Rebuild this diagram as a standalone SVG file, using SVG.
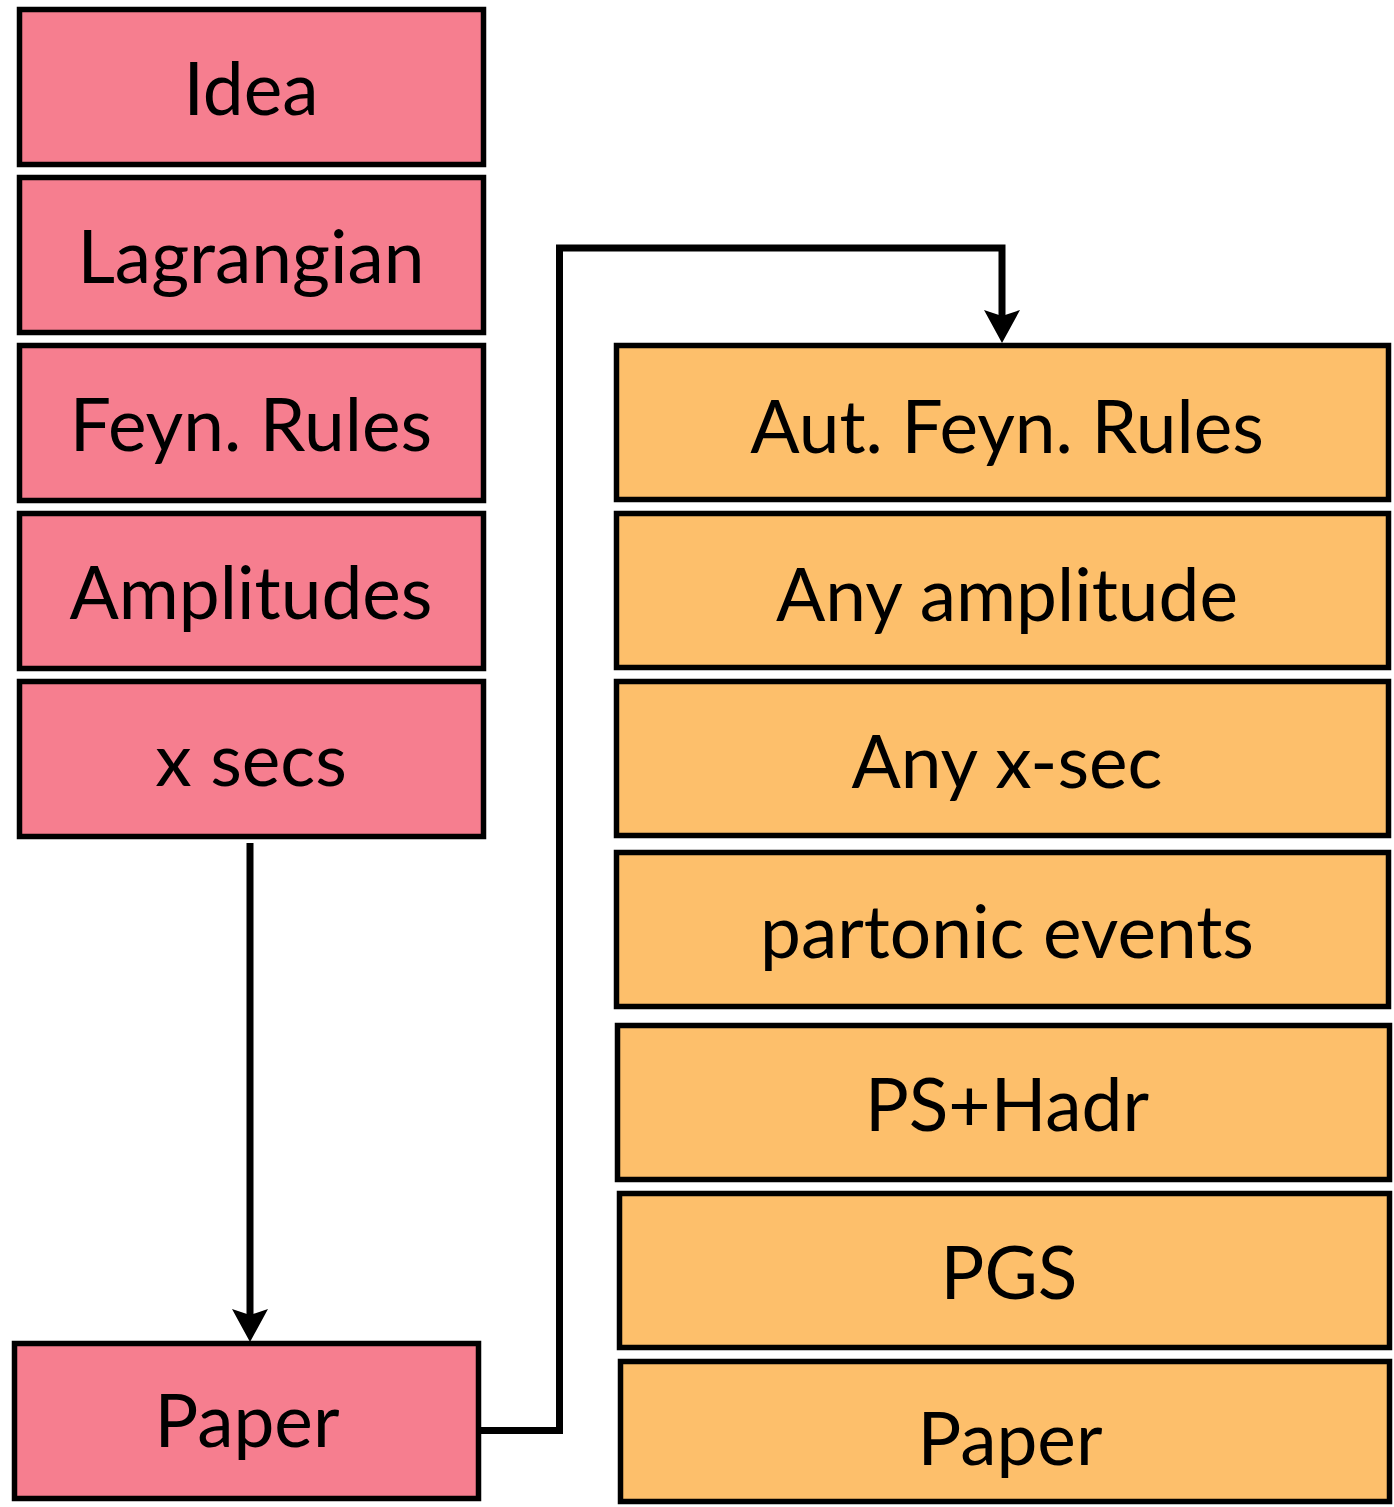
<svg xmlns="http://www.w3.org/2000/svg" width="1394" height="1507" viewBox="0 0 1394 1507">
  <style>
    .pink { fill: #f67e8f; stroke: #000; stroke-width: 5.5; }
    .orange { fill: #fdbf6b; stroke: #000; stroke-width: 5.5; }
    .lbl { font-family: Lato, "Open Sans", sans-serif; font-size: 73px; fill: #000; text-anchor: middle; }
    .wire { fill: none; stroke: #000; stroke-width: 7; }
  </style>
  <defs>
    <!-- notched arrowhead; the wire ends at the notch (refX) -->
    <marker id="head" markerUnits="userSpaceOnUse" markerWidth="40" markerHeight="40" viewBox="0 0 40 40" refX="6" refY="20" orient="auto">
      <path d="M0,2 L33,20 L0,38 L6,20 Z" fill="#000"/>
    </marker>
  </defs>

  <!-- hand-made workflow -->
  <g id="idea"><rect class="pink" x="19.5" y="9.5" width="464" height="155"/><text class="lbl" x="251" y="115">Idea</text></g>
  <g id="lagrangian"><rect class="pink" x="19.5" y="177.5" width="464" height="155"/><text class="lbl" x="251" y="283">Lagrangian</text></g>
  <g id="feyn-rules"><rect class="pink" x="19.5" y="345.5" width="464" height="155"/><text class="lbl" x="251" y="451">Feyn. Rules</text></g>
  <g id="amplitudes"><rect class="pink" x="19.5" y="513.5" width="464" height="155"/><text class="lbl" x="251" y="619">Amplitudes</text></g>
  <g id="x-secs"><rect class="pink" x="19.5" y="681.5" width="464" height="155"/><text class="lbl" x="251" y="786">x secs</text></g>
  <g id="paper-left"><rect class="pink" x="14.5" y="1343.5" width="464" height="155"/><text class="lbl" x="247" y="1447">Paper</text></g>

  <!-- automated workflow -->
  <g id="aut-feyn-rules"><rect class="orange" x="616.5" y="345.5" width="772" height="154"/><text class="lbl" x="1007" y="453">Aut. Feyn. Rules</text></g>
  <g id="any-amplitude"><rect class="orange" x="616.5" y="513.5" width="772" height="154"/><text class="lbl" x="1007" y="621">Any amplitude</text></g>
  <g id="any-x-sec"><rect class="orange" x="616.5" y="681.5" width="772" height="154"/><text class="lbl" x="1007" y="788">Any x-sec</text></g>
  <g id="partonic-events"><rect class="orange" x="616.5" y="852.5" width="772" height="154"/><text class="lbl" x="1007" y="958">partonic events</text></g>
  <g id="ps-hadr"><rect class="orange" x="617.5" y="1025.5" width="772" height="154"/><text class="lbl" x="1007" y="1131">PS+Hadr</text></g>
  <g id="pgs"><rect class="orange" x="619.5" y="1193.5" width="770" height="154"/><text class="lbl" x="1009" y="1299">PGS</text></g>
  <g id="paper-right"><rect class="orange" x="620.5" y="1361.5" width="769" height="140"/><text class="lbl" x="1010" y="1465">Paper</text></g>

  <g id="connectors">
    <path class="wire" d="M250,843 L250,1315" marker-end="url(#head)"/>
    <path class="wire" d="M481,1430.5 L559.5,1430.5 L559.5,248 L1002,248 L1002,316" marker-end="url(#head)"/>
  </g>
</svg>
